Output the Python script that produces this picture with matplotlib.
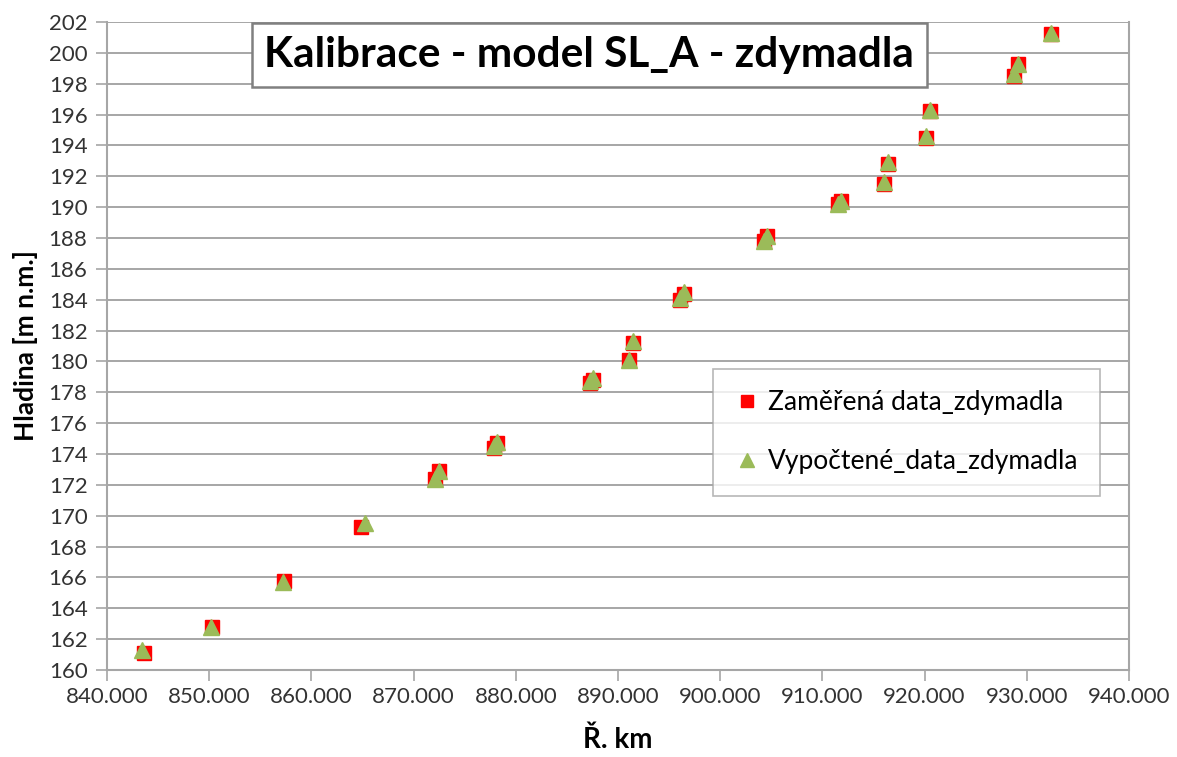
import numpy as np
import matplotlib
matplotlib.use('Agg')
import matplotlib.pyplot as plt

# measured water levels (red squares)
km_meas = [843.6, 850.3, 857.3, 864.9, 872.1, 872.5, 877.9, 878.2, 887.3, 887.6, 891.1, 891.5,
           896.1, 896.5, 904.3, 904.6, 911.5, 911.8, 916.0, 916.4, 920.1, 920.5, 928.7, 929.1, 932.4]
h_meas = [161.1, 162.8, 165.8, 169.3, 172.4, 172.9, 174.4, 174.7, 178.6, 178.8, 180.1, 181.2,
          184.0, 184.4, 187.8, 188.1, 190.2, 190.4, 191.5, 192.8, 194.5, 196.2, 198.5, 199.3, 201.2]
# computed water levels (green triangles)
km_calc = [843.4, 850.2, 857.2, 865.2, 872.1, 872.5, 877.9, 878.2, 887.3, 887.6, 891.1, 891.5,
           896.1, 896.5, 904.3, 904.6, 911.5, 911.8, 916.0, 916.4, 920.1, 920.5, 928.7, 929.1, 932.4]
h_calc = [161.3, 162.8, 165.7, 169.5, 172.4, 172.9, 174.5, 174.8, 178.7, 178.9, 180.1, 181.3,
          184.1, 184.5, 187.8, 188.1, 190.2, 190.4, 191.6, 192.9, 194.6, 196.3, 198.6, 199.3, 201.3]

xticks = np.arange(840, 941, 10)
yticks = np.arange(160, 203, 2)

plt.rcParams['font.family'] = ['Lato', 'DejaVu Sans']
grey = '#a6a6a6'

fig = plt.figure(figsize=(11.77, 7.57), dpi=100)
ax = fig.add_axes([107/1177, 1-670/757, (1129-107)/1177, (670-22)/757])

ax.plot(km_meas, h_meas, 's', color='#ff0000', markersize=10, label='Zaměřená data_zdymadla', zorder=3)
ax.plot(km_calc, h_calc, '^', color='#9bbb59', markersize=11, label='Vypočtené_data_zdymadla', zorder=4)

ax.set_xlim(840, 940)
ax.set_ylim(160, 202)
ax.set_xticks(xticks)
ax.set_xticklabels(['%.3f' % v for v in xticks], fontsize=16, color='#333333')
ax.set_yticks(yticks)
ax.set_yticklabels(['%d' % v for v in yticks], fontsize=16, color='#333333')
ax.tick_params(axis='both', direction='out', length=8, width=1.2, color=grey)
ax.tick_params(axis='x', pad=4)
ax.tick_params(axis='y', pad=6)
ax.grid(axis='y', color=grey, linewidth=1.4)
ax.set_axisbelow(True)
ax.spines['top'].set_visible(False)
for s in ['left', 'bottom', 'right']:
    ax.spines[s].set_color(grey)
    ax.spines[s].set_linewidth(1.5)

ax.set_xlabel('Ř. km', fontsize=20, fontweight='bold', labelpad=14)
ax.set_ylabel('Hladina [m n.m.]', fontsize=19, fontweight='bold', labelpad=8)

ax.text(0.472, 0.949, 'Kalibrace - model SL_A - zdymadla', transform=ax.transAxes,
        ha='center', va='center', fontsize=30.5, fontweight='bold',
        bbox=dict(boxstyle='square,pad=0.3', facecolor='white', edgecolor='#808080', linewidth=1.8),
        zorder=5)

leg = ax.legend(loc='upper left', bbox_to_anchor=((713-107)/1022, (670-369)/648),
                frameon=True, fancybox=False, edgecolor=grey, borderaxespad=0,
                handletextpad=0.3, labelspacing=1.3, borderpad=0.8, handlelength=1.0,
                markerscale=0.9, prop={'size': 19})
leg.get_frame().set_linewidth(1.2)

fig.savefig('out.png', dpi=100, facecolor='white')
